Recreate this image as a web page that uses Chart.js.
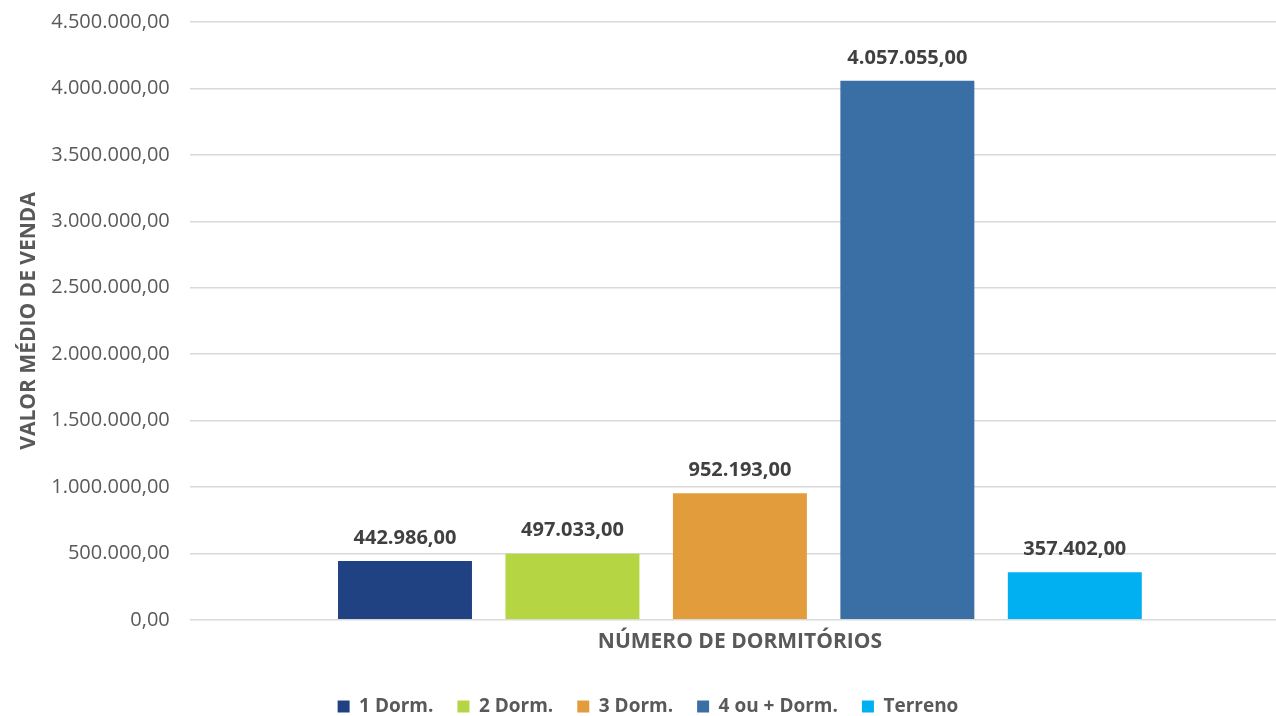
<!DOCTYPE html>
<html>
<head>
<meta charset="utf-8">
<script src="https://cdn.jsdelivr.net/npm/chart.js@4/dist/chart.umd.min.js"></script>
<style>
  html, body { margin: 0; padding: 0; background: #fff; overflow: hidden; }
  #wrap { width: 1304px; height: 726px; margin-top: -10px; }
</style>
</head>
<body>
<div id="wrap"><canvas id="vendaChart"></canvas></div>
<script>
var categories = [''];
var seriesNames = ['1 Dorm.', '2 Dorm.', '3 Dorm.', '4 ou + Dorm.', 'Terreno'];
var seriesValues = [442986, 497033, 952193, 4057055, 357402];
var seriesColors = ['#214282', '#b5d543', '#e39c3b', '#3a6fa6', '#00b0f0'];
var yTicks = [0, 500000, 1000000, 1500000, 2000000, 2500000, 3000000, 3500000, 4000000, 4500000];

var fontFamily = "'Open Sans', 'Noto Sans', sans-serif";

// 1234567 -> 1.234.567,00
function fmtBR(v) {
    var parts = v.toFixed(2).split('.');
    var intPart = parts[0].replace(/\B(?=(\d{3})+(?!\d))/g, '.');
    return intPart + ',' + parts[1];
}

var valueLabels = {
    id: 'valueLabels',
    afterDatasetsDraw: function (chart) {
        var ctx = chart.ctx;
        ctx.save();
        ctx.font = 'bold 20px ' + fontFamily;
        ctx.fillStyle = '#404040';
        ctx.textAlign = 'center';
        ctx.textBaseline = 'bottom';
        chart.data.datasets.forEach(function (ds, i) {
            var meta = chart.getDatasetMeta(i);
            meta.data.forEach(function (bar, j) {
                ctx.fillText(fmtBR(ds.data[j]), bar.x, bar.y - 13);
            });
        });
        ctx.restore();
    }
};

var datasets = seriesNames.map(function (name, i) {
    return {
        label: name,
        data: [seriesValues[i]],
        backgroundColor: seriesColors[i],
        borderWidth: 0
    };
});

var ctx = document.getElementById('vendaChart').getContext('2d');

var chart = new Chart(ctx, {
    type: 'bar',
    data: {
        labels: categories,
        datasets: datasets
    },
    options: {
        responsive: true,
        maintainAspectRatio: false,
        animation: false,
        categoryPercentage: 0.761,
        barPercentage: 0.8,
        layout: { padding: { top: -6, right: 14, left: 6, bottom: -10 } },
        plugins: {
            legend: {
                position: 'bottom',
                labels: {
                    boxWidth: 12,
                    boxHeight: 12,
                    padding: 24,
                    color: '#595959',
                    font: { family: fontFamily, size: 19, weight: 'bold' }
                }
            },
            tooltip: { enabled: false }
        },
        scales: {
            x: {
                grid: { display: false },
                border: { display: false },
                ticks: { display: false },
                title: {
                    display: true,
                    text: 'NÚMERO DE DORMITÓRIOS',
                    color: '#595959',
                    font: { family: fontFamily, size: 21, weight: 'bold' },
                    padding: { top: 2, bottom: 18 }
                }
            },
            y: {
                min: 0,
                max: 4500000,
                afterBuildTicks: function (axis) {
                    axis.ticks = yTicks.map(function (v) { return { value: v }; });
                },
                grid: { color: '#d9d9d9', lineWidth: 1.5, drawTicks: false },
                border: { display: false },
                ticks: {
                    color: '#595959',
                    padding: 20,
                    font: { family: fontFamily, size: 20 },
                    callback: function (v) { return fmtBR(v); }
                },
                title: {
                    display: true,
                    text: 'VALOR MÉDIO DE VENDA',
                    color: '#595959',
                    font: { family: fontFamily, size: 21, weight: 'bold' },
                    padding: { top: 10, bottom: -10 }
                }
            }
        }
    },
    plugins: [valueLabels]
});
</script>
</body>
</html>
